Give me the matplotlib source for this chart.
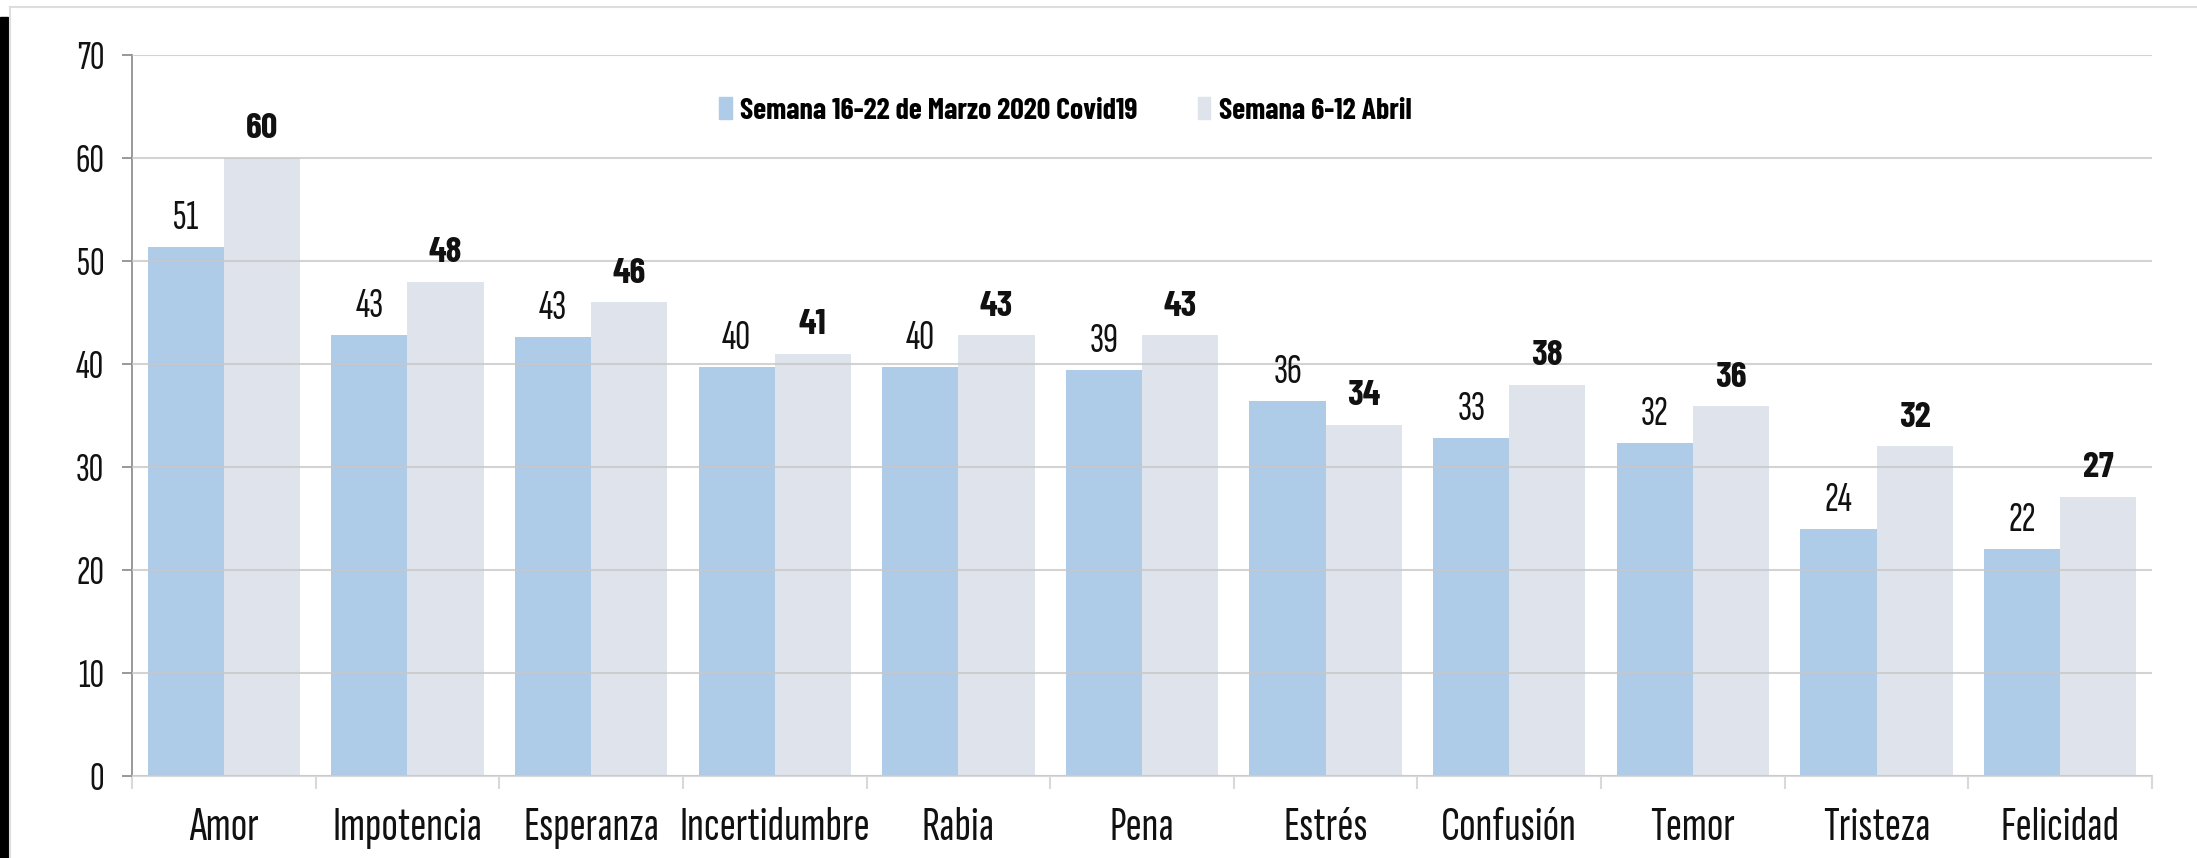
import matplotlib
matplotlib.use("Agg")
import numpy as np
import matplotlib.pyplot as plt
from matplotlib.patches import Patch, Rectangle
from matplotlib.lines import Line2D

# data
categories = ["Amor", "Impotencia", "Esperanza", "Incertidumbre", "Rabia", "Pena",
              "Estrés", "Confusión", "Temor", "Tristeza", "Felicidad"]
marzo = [51.4, 42.8, 42.6, 39.7, 39.7, 39.4, 36.4, 32.8, 32.3, 24.0, 22.0]
abril = [60.0, 48.0, 46.0, 41.0, 42.8, 42.8, 34.1, 38.0, 35.9, 32.0, 27.1]
series_names = ["Semana 16-22 de Marzo 2020 Covid19", "Semana 6-12 Abril"]
yticks = [0, 10, 20, 30, 40, 50, 60, 70]

BLUE = "#aecbe8"
GREY = "#dfe3ec"
LIGHT = ["Sofia Sans Extra Condensed", "Pathway Gothic One", "Roboto Condensed", "DejaVu Sans"]
BOLD = ["Barlow Condensed", "Oswald", "Roboto Condensed", "DejaVu Sans"]

plt.rcParams["font.family"] = LIGHT

W, H = 2197, 858
fig = plt.figure(figsize=(W / 100, H / 100), dpi=100)

# page decorations: black strip on the left and thin grey frame
fig.patches.append(Rectangle((0, 0), 8 / W, 1 - 17 / H, transform=fig.transFigure,
                             color="black", zorder=0))
fig.lines.append(Line2D([10 / W, 10 / W], [0, 1 - 7 / H], transform=fig.transFigure,
                        color="#dddddd", lw=1.5))
fig.lines.append(Line2D([10 / W, 1], [1 - 7 / H, 1 - 7 / H], transform=fig.transFigure,
                        color="#dddddd", lw=1.5))

ax = fig.add_axes([132 / W, 1 - 776 / H, (2152 - 132) / W, (776 - 55) / H])

x = np.arange(len(categories))
bw = 0.415
b1 = ax.bar(x - bw / 2, marzo, width=bw, color=BLUE, zorder=2)
b2 = ax.bar(x + bw / 2, abril, width=bw, color=GREY, zorder=2)

for rect, v in zip(b1, marzo):
    ax.text(rect.get_x() + rect.get_width() / 2, v + 1.75, "%.0f" % v,
            ha="center", va="baseline", fontsize=30, color="#111111")
for rect, v in zip(b2, abril):
    ax.text(rect.get_x() + rect.get_width() / 2, v + 1.9, "%.0f" % v,
            ha="center", va="baseline", fontsize=26, family=BOLD, fontweight="bold",
            color="#111111")

ax.set_xlim(-0.5, len(categories) - 0.5)
ax.set_ylim(0, 70)
ax.set_yticks(yticks)
ax.tick_params(axis="y", length=7, width=1.2, color="#888888", pad=13,
               labelsize=29, labelcolor="#111111")

ax.set_xticks(x)
ax.set_xticklabels(categories)
ax.tick_params(axis="x", which="major", length=0, pad=22, labelsize=35, labelcolor="#111111")
ax.set_xticks(np.arange(len(categories) + 1) - 0.5, minor=True)
ax.tick_params(axis="x", which="minor", length=9, width=1.5, color="#d9d9d9")

ax.yaxis.grid(True, color="#c8c8c8", lw=1.5, alpha=0.8, zorder=3)
ax.set_axisbelow(False)
for s in ["top", "right"]:
    ax.spines[s].set_visible(False)
ax.spines["left"].set_color("#888888")
ax.spines["left"].set_linewidth(1.2)
ax.spines["bottom"].set_color("#d9d9d9")
ax.spines["bottom"].set_linewidth(1.5)

handles = [Patch(color=BLUE), Patch(color=GREY)]
fig.legend(handles, series_names, loc="center left",
           bbox_to_anchor=(719 / W, 1 - 111 / H), ncol=2, frameon=False,
           prop={"family": BOLD, "weight": "bold", "size": 21.5},
           handlelength=0.42, handleheight=0.75, handletextpad=0.3,
           columnspacing=2.0, borderpad=0, borderaxespad=0)

fig.savefig("out.png", dpi=100)
